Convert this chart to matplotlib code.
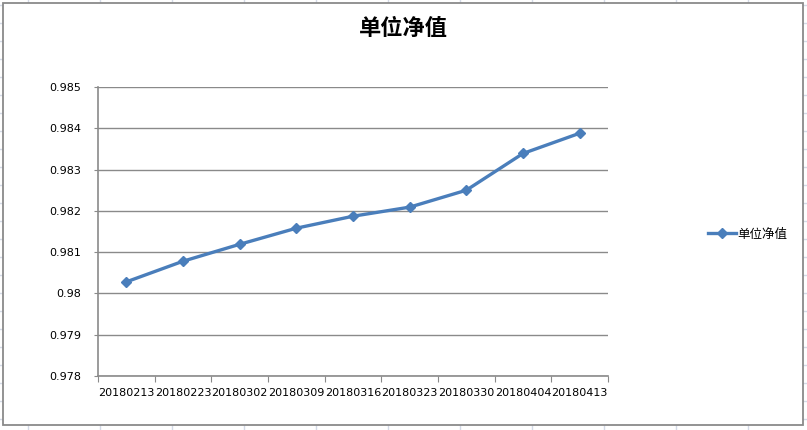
import matplotlib.pyplot as plt
from matplotlib.patches import Rectangle

plt.rcParams['font.family'] = ['Noto Sans CJK SC', 'DejaVu Sans']

# data
dates = ["20180213", "20180223", "20180302", "20180309", "20180316",
         "20180323", "20180330", "20180404", "20180413"]
nav = [0.98028, 0.98078, 0.98119, 0.98158, 0.98187, 0.98209, 0.98250, 0.98339, 0.98388]
y_ticks = [0.978, 0.979, 0.980, 0.981, 0.982, 0.983, 0.984, 0.985]
y_labels = ["0.978", "0.979", "0.98", "0.981", "0.982", "0.983", "0.984", "0.985"]

W, H = 807, 430
fig = plt.figure(figsize=(W / 100, H / 100), dpi=100)

# spreadsheet cells behind the chart
bg = fig.add_axes([0, 0, 1, 1])
bg.set_xlim(0, W)
bg.set_ylim(H, 0)
bg.axis("off")
for x in range(28, W, 72):
    bg.axvline(x, color="#d4dae6", lw=1, zorder=1)
for y in range(5, H, 18):
    bg.axhline(y, color="#d4dae6", lw=1, zorder=1)
bg.add_patch(Rectangle((3, 3), 800, 422, facecolor="white", edgecolor="#8a8a8a",
                       lw=1.3, zorder=5))

# plot area
left, right, top, bottom = 98, 608, 87, 376
ax = fig.add_axes([left / W, (H - bottom) / H, (right - left) / W, (bottom - top) / H])
ax.set_facecolor("none")

xs = list(range(len(dates)))
ax.plot(xs, nav, color="#4a7ebb", lw=2.4, marker="D", markersize=5.5, label="单位净值")

ax.set_xlim(-0.5, len(dates) - 0.5)
ax.set_ylim(0.978, 0.985)
ax.set_yticks(y_ticks)
ax.set_yticklabels(y_labels, fontfamily="DejaVu Sans", fontsize=8)
ax.yaxis.grid(True, color="#8a8a8a", lw=1)
ax.set_axisbelow(True)

ax.set_xticks([i - 0.5 for i in range(len(dates) + 1)])
ax.set_xticklabels([])
ax.set_xticks(xs, minor=True)
ax.set_xticklabels(dates, minor=True, fontfamily="DejaVu Sans", fontsize=8)
ax.tick_params(axis="x", which="major", length=4, color="#8a8a8a")
ax.tick_params(axis="x", which="minor", length=0, pad=9)
ax.tick_params(axis="y", length=3, color="#8a8a8a", pad=9)

for s in ["top", "right"]:
    ax.spines[s].set_visible(False)
for s in ["left", "bottom"]:
    ax.spines[s].set_color("#8a8a8a")
    ax.spines[s].set_linewidth(1.2)

fig.text(403 / W, 1 - 28 / H, "单位净值", ha="center", va="center",
         fontsize=16, fontweight="bold")

ax.legend(loc="center left", bbox_to_anchor=(697 / W, 1 - 234 / H),
          bbox_transform=fig.transFigure, frameon=False, fontsize=9,
          handlelength=2.2, handletextpad=0.15)

fig.savefig("out.png", dpi=100)
